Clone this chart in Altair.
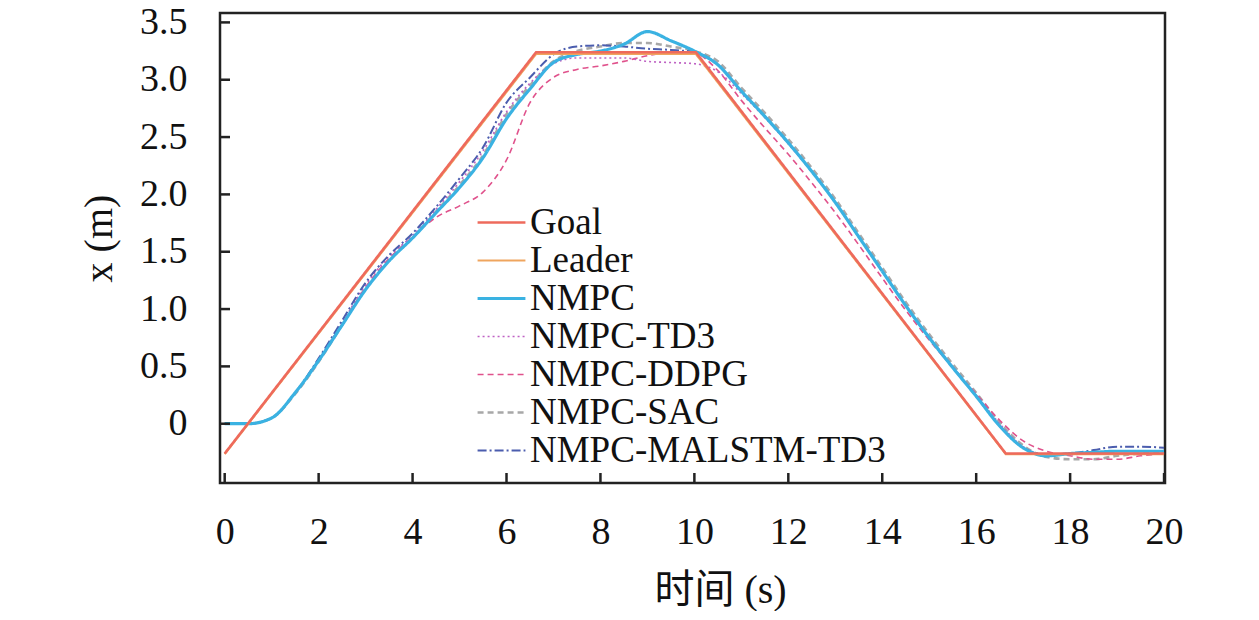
import altair as alt
import pandas as pd

# ---- data ----
series_order = ["Goal", "Leader", "NMPC", "NMPC-TD3", "NMPC-DDPG", "NMPC-SAC", "NMPC-MALSTM-TD3"]
series_colors = ["#EE6A5C", "#EFA55E", "#3AB2E2", "#BF62C4", "#E0528C", "#A8A8A8", "#4B5DAE"]
series_dash = [[1, 0], [1, 0], [1, 0], [2, 3], [6, 4], [6, 4], [9, 3, 2, 3]]
series_width = [2.6, 2.2, 3.2, 1.6, 1.6, 2.6, 2.0]

goal_t = [0, 6.63, 10.03, 16.63, 20]
goal_y = [-0.26, 3.24, 3.24, -0.26, -0.26]
leader_t = [0, 6.63, 10.03, 16.63, 20]
leader_y = [-0.265, 3.225, 3.225, -0.265, -0.265]

follower_t = [0, 0.5, 1, 1.5, 2, 2.5, 3, 3.5, 4, 4.5, 5, 5.5, 6, 6.5, 7, 7.5, 8, 8.5, 9, 9.5,
              10, 10.5, 11, 11.5, 12, 12.5, 13, 13.5, 14, 14.5, 15, 15.5, 16, 16.5, 17, 17.5,
              18, 18.5, 19, 19.5, 20]
nmpc_y = [0.0, 0.0, 0.05, 0.27, 0.55, 0.86, 1.17, 1.42, 1.62, 1.84, 2.06, 2.32, 2.66, 2.92,
          3.15, 3.22, 3.25, 3.31, 3.42, 3.34, 3.25, 3.13, 2.9, 2.68, 2.45, 2.2, 1.93, 1.63,
          1.33, 1.03, 0.75, 0.49, 0.24, -0.02, -0.21, -0.28, -0.26, -0.25, -0.24, -0.24, -0.24]
td3_y = [0.0, 0.0, 0.05, 0.27, 0.56, 0.88, 1.21, 1.46, 1.64, 1.87, 2.11, 2.38, 2.72, 2.97,
         3.14, 3.19, 3.19, 3.19, 3.16, 3.15, 3.14, 3.07, 2.88, 2.67, 2.44, 2.2, 1.93, 1.63,
         1.33, 1.03, 0.76, 0.5, 0.25, 0.0, -0.2, -0.27, -0.27, -0.25, -0.24, -0.24, -0.24]
ddpg_y = [0.0, 0.0, 0.05, 0.27, 0.55, 0.87, 1.19, 1.44, 1.63, 1.8, 1.9, 2.02, 2.3, 2.8,
          3.02, 3.09, 3.12, 3.16, 3.21, 3.235, 3.23, 3.08, 2.82, 2.58, 2.35, 2.1, 1.84, 1.56,
          1.27, 0.99, 0.73, 0.49, 0.26, 0.03, -0.15, -0.24, -0.28, -0.31, -0.31, -0.28, -0.26]
sac_y = [0.0, 0.0, 0.05, 0.26, 0.54, 0.86, 1.18, 1.43, 1.62, 1.85, 2.08, 2.34, 2.7, 2.95,
         3.16, 3.25, 3.29, 3.32, 3.32, 3.29, 3.25, 3.16, 2.93, 2.71, 2.48, 2.23, 1.96, 1.66,
         1.36, 1.06, 0.78, 0.52, 0.27, 0.01, -0.19, -0.29, -0.31, -0.31, -0.28, -0.26, -0.25]
malstm_y = [0.0, 0.0, 0.05, 0.27, 0.57, 0.9, 1.23, 1.47, 1.66, 1.89, 2.14, 2.41, 2.8, 3.02,
            3.22, 3.29, 3.3, 3.29, 3.27, 3.26, 3.24, 3.13, 2.9, 2.68, 2.45, 2.2, 1.93, 1.63,
            1.33, 1.03, 0.75, 0.49, 0.24, -0.02, -0.21, -0.27, -0.26, -0.23, -0.2, -0.2, -0.21]

x_tick_values = [0, 2, 4, 6, 8, 10, 12, 14, 16, 18, 20]
y_tick_values = [0, 0.5, 1.0, 1.5, 2.0, 2.5, 3.0, 3.5]

# ---- tables ----
ref_rows = []
for name, ts, ys in [("Leader", leader_t, leader_y), ("Goal", goal_t, goal_y)]:
    ref_rows += [{"series": name, "t": a, "x": b} for a, b in zip(ts, ys)]
ref_df = pd.DataFrame(ref_rows)

fol_rows = []
for name, ys in [("NMPC-SAC", sac_y), ("NMPC-DDPG", ddpg_y), ("NMPC-TD3", td3_y),
                 ("NMPC-MALSTM-TD3", malstm_y), ("NMPC", nmpc_y)]:
    fol_rows += [{"series": name, "t": a, "x": b} for a, b in zip(follower_t, ys)]
fol_df = pd.DataFrame(fol_rows)

xt_df = pd.DataFrame({"t": x_tick_values})
yt_df = pd.DataFrame({"x": y_tick_values})

FONT = "Liberation Serif, Times New Roman, Noto Sans CJK SC, serif"

xscale = alt.Scale(domain=[-0.1, 20.02], nice=False, zero=False)
yscale = alt.Scale(domain=[-0.517, 3.582], nice=False, zero=False)

legend = alt.Legend(
    title=None, orient="none", legendX=263, legendY=191,
    symbolType="M-1.45,0H1.45", symbolSize=1089, symbolOpacity=1,
    labelFont=FONT, labelFontSize=37, labelColor="#111111", labelOffset=10,
    labelLimit=800, rowPadding=0, padding=0,
)

color = alt.Color("series:N", scale=alt.Scale(domain=series_order, range=series_colors), legend=legend)
dash = alt.StrokeDash("series:N", scale=alt.Scale(domain=series_order, range=series_dash), legend=legend)
width = alt.StrokeWidth("series:N", scale=alt.Scale(type="ordinal", domain=series_order, range=series_width), legend=legend)

x_enc = alt.X("t:Q", scale=xscale, axis=alt.Axis(
    values=x_tick_values, title="时间 (s)", labelPadding=30, format="d", labelFlush=False,
    titleX=500, titleY=119, titleBaseline="alphabetic", titleAlign="center"))
y_enc = alt.Y("x:Q", scale=yscale, axis=alt.Axis(
    values=y_tick_values, title="x (m)", labelPadding=33, labelFlush=False,
    labelExpr="datum.value == 0 ? '0' : format(datum.value, '.1f')",
    titleX=-121, titleY=225, titleAngle=-90, titleAlign="center", titleBaseline="middle"))

followers = alt.Chart(fol_df).mark_line(interpolate="monotone", clip=True).encode(
    x=x_enc, y=y_enc, color=color, strokeDash=dash, strokeWidth=width, detail="series:N")
refs = alt.Chart(ref_df).mark_line(clip=True).encode(
    x=alt.X("t:Q", scale=xscale), y=alt.Y("x:Q", scale=yscale),
    color=color, strokeDash=dash, strokeWidth=width, detail="series:N")

xticks = alt.Chart(xt_df).mark_rule(color="#222222", strokeWidth=2.5).encode(
    x=alt.X("t:Q", scale=xscale), y=alt.value(470), y2=alt.value(460))
yticks = alt.Chart(yt_df).mark_rule(color="#222222", strokeWidth=2.5).encode(
    y=alt.Y("x:Q", scale=yscale), x=alt.value(0), x2=alt.value(10))

chart = alt.layer(followers, refs, xticks, yticks).properties(
    width=945, height=470,
    autosize=alt.AutoSizeParams(type="none"),
    padding={"left": 212, "top": 5, "right": 80, "bottom": 128},
    background="white",
).configure_view(
    stroke="#222222", strokeWidth=2.5
).configure_axis(
    domain=False, ticks=False, tickSize=0, grid=False,
    labelFont=FONT, labelFontSize=38, labelColor="#111111",
    titleFont=FONT, titleFontSize=40, titleFontWeight="normal", titleColor="#111111",
)

chart.save("out.html", embed_options={"renderer": "svg", "actions": False})
